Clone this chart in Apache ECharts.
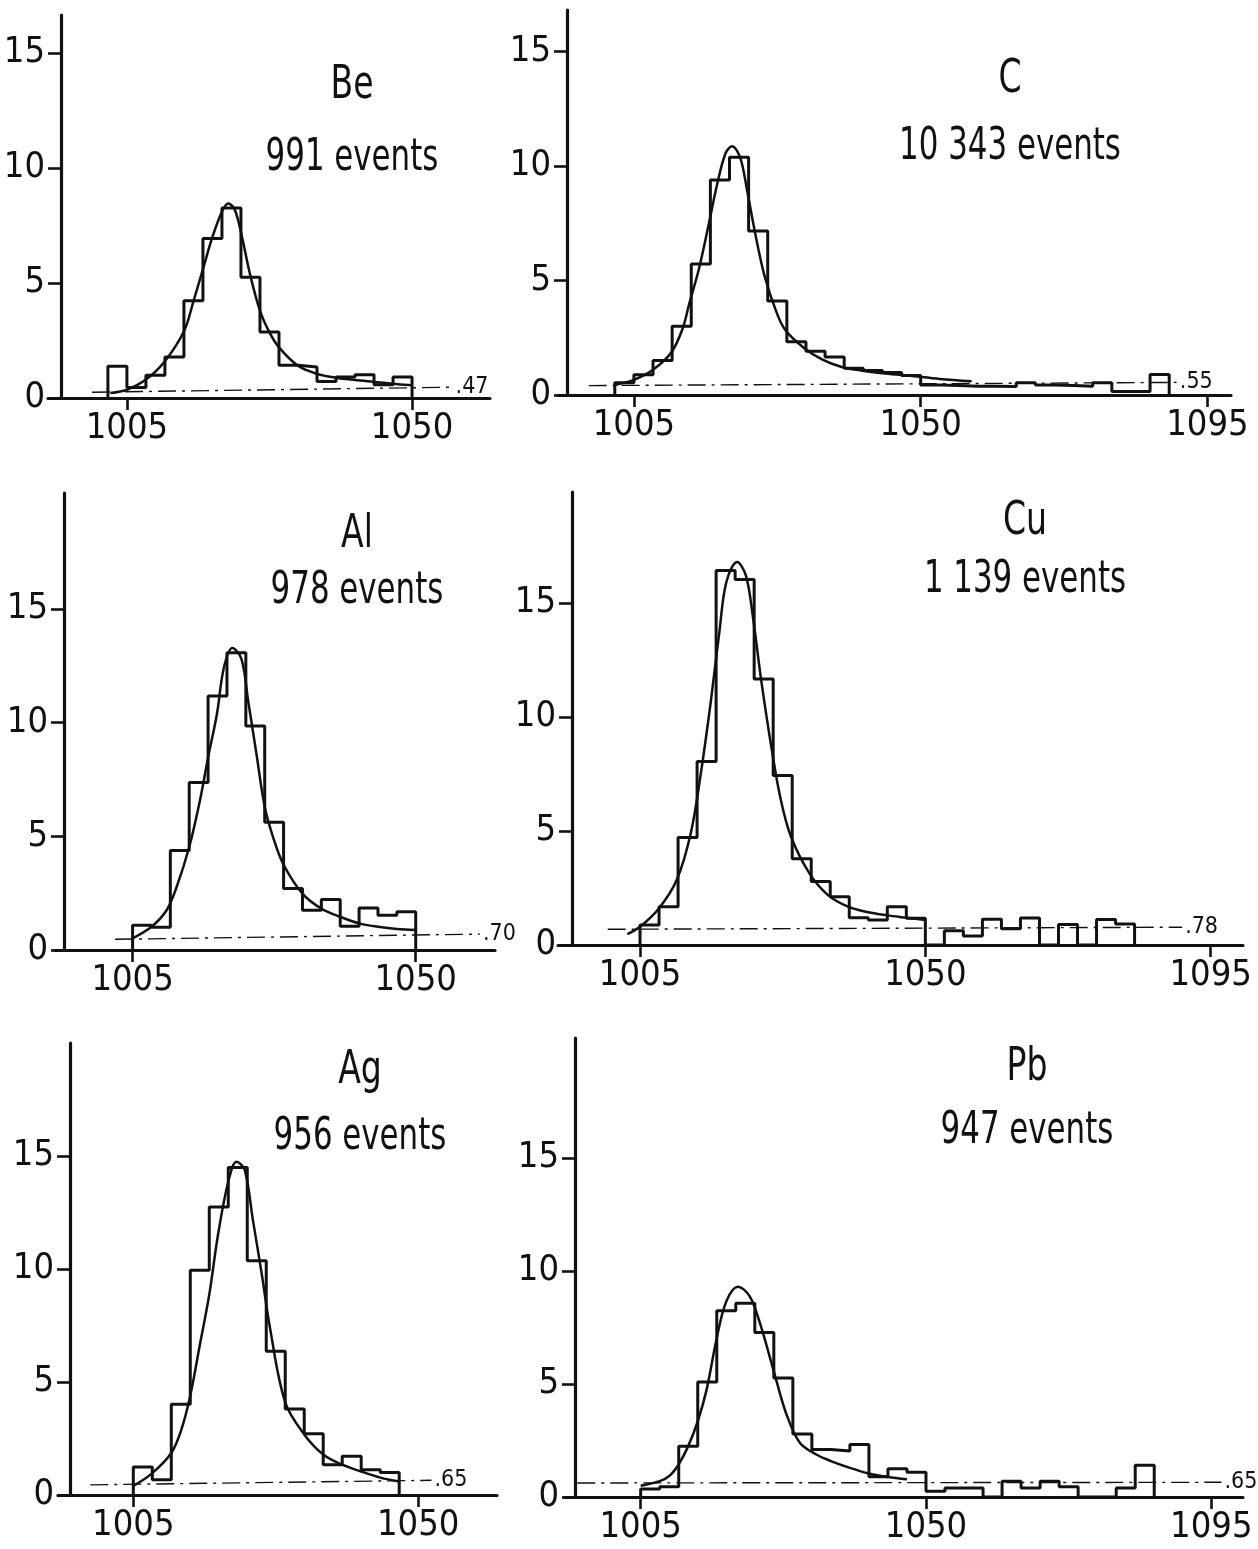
<!DOCTYPE html>
<html>
<head>
<meta charset="utf-8">
<script src="https://cdn.jsdelivr.net/npm/echarts@6/dist/echarts.min.js"></script>
<style>
  html, body { margin: 0; padding: 0; background: #fff; }
  #chart { width: 1258px; height: 1549px; }
</style>
</head>
<body>
<div id="chart"></div>
<script>
// Missing-mass spectra for six targets: 3 MeV histogram bins, fitted curve, background level.
const binWidth = 3;
const xTickValues = [1005, 1050, 1095];
const yTickValues = [0, 5, 10, 15];
const targets = ['Be', 'C', 'Al', 'Cu', 'Ag', 'Pb'];
const eventCounts = ['991', '10 343', '978', '1 139', '956', '947'];

// Be
const beFirstBin = 1002;
const beCounts = [1.38, 0.46, 0.99, 1.78, 4.23, 6.93, 8.26, 5.25, 2.87, 1.42, 1.35, 0.72, 0.91, 1.01, 0.58, 0.91];
const beFitX = [1002.4, 1005, 1008, 1011, 1014, 1015.5, 1017, 1018.5, 1020, 1021, 1022, 1023, 1024.5, 1026, 1027.5, 1029, 1032, 1035, 1038, 1041, 1044, 1047, 1050];
const beFitY = [0.22, 0.36, 0.8, 1.6, 2.9, 4.2, 5.6, 7.0, 8.1, 8.45, 8.2, 7.2, 5.3, 3.8, 2.85, 2.2, 1.4, 1.05, 0.88, 0.78, 0.7, 0.62, 0.55];
const beBaseX = [999.5, 1056.4];
const beBaseY = [0.25, 0.47];

// C
const cFirstBin = 1002;
const cCounts = [0.54, 0.88, 1.51, 3.0, 5.72, 9.38, 10.37, 7.16, 4.1, 2.32, 1.91, 1.66, 1.17, 1.07, 0.98, 0.85,
                 0.44, 0.41, 0.38, 0.38, 0.37, 0.53, 0.44, 0.41, 0.38, 0.53, 0.15, 0.15, 0.9];
const cFitX = [1002, 1005, 1008, 1010.8, 1012.6, 1013.7, 1015.2, 1016.7, 1018.1, 1019.4, 1020.4, 1021.7, 1022.8, 1024.1, 1025.5, 1027.3, 1028.7, 1031.7, 1034.6, 1037.6, 1040.6, 1044, 1048, 1053, 1058];
const cFitY = [0.44, 0.66, 1.1, 1.83, 2.86, 4.0, 5.5, 7.4, 9.24, 10.56, 10.85, 10.34, 8.87, 6.96, 5.2, 3.67, 2.86, 2.05, 1.54, 1.22, 1.07, 0.95, 0.85, 0.7, 0.6];
const cBaseX = [997.9, 1090.2];
const cBaseY = [0.41, 0.55];

// Al
const alFirstBin = 1005;
const alCounts = [1.09, 1.0, 4.38, 7.37, 11.17, 13.07, 9.85, 5.62, 2.7, 1.75, 2.22, 1.05, 1.85, 1.53, 1.68];
const alFitX = [1005, 1008, 1010.4, 1012, 1014, 1015.7, 1017, 1018.4, 1019.5, 1020.85, 1022.3, 1023.4, 1024.7, 1026, 1027.4, 1029, 1032, 1035, 1038, 1041, 1044, 1047, 1050];
const alFitY = [0.51, 1.02, 1.75, 2.77, 4.53, 6.57, 8.47, 10.37, 12.4, 13.28, 12.8, 10.9, 8.6, 6.3, 4.9, 3.75, 2.48, 1.82, 1.46, 1.17, 1.02, 0.92, 0.88];
const alBaseX = [1002.2, 1060.2];
const alBaseY = [0.47, 0.70];

// Cu
const cuFirstBin = 1005;
const cuCounts = [0.88, 1.68, 4.71, 8.05, 16.43, 16.03, 11.67, 7.44, 3.78, 2.78, 2.12, 1.2, 1.1, 1.68, 1.17,
                  0, 0.62, 0.4, 1.13, 0.71, 1.18, 0, 0.9, 0, 1.12, 0.92];
const cuFitX = [1003, 1005, 1008, 1010.8, 1013, 1014.6, 1016.2, 1017.5, 1018.6, 1020.3, 1021.7, 1022.8, 1024.1, 1025.7, 1027.2, 1028.8, 1031.7, 1034.6, 1037.8, 1040.6, 1044, 1047, 1050];
const cuFitY = [0.48, 0.8, 1.61, 2.86, 4.9, 7.54, 10.76, 13.7, 15.9, 16.8, 16.2, 14.4, 11.64, 8.7, 6.37, 4.76, 3.15, 2.2, 1.68, 1.46, 1.3, 1.2, 1.1];
const cuBaseX = [999.9, 1090.5];
const cuBaseY = [0.69, 0.78];

// Ag
const agFirstBin = 1005;
const agCounts = [1.24, 0.67, 4.02, 9.94, 12.74, 14.49, 10.36, 6.36, 3.8, 2.71, 1.34, 1.71, 1.12, 1.0];
const agFitX = [1005, 1008, 1011, 1012.6, 1014, 1015.5, 1017, 1018.4, 1020, 1021.3, 1022.6, 1023.9, 1025.3, 1026.6, 1029, 1032, 1035, 1038, 1041, 1044, 1047];
const agFitY = [0.4, 0.97, 1.86, 2.9, 4.4, 6.63, 8.87, 11.55, 13.86, 14.75, 14.38, 12.15, 9.76, 7.38, 4.1, 2.68, 1.79, 1.34, 1.04, 0.77, 0.6];
const agBaseX = [998.2, 1052.1];
const agBaseY = [0.45, 0.65];

// Pb
const pbFirstBin = 1005;
const pbCounts = [0.35, 0.45, 2.25, 5.09, 8.24, 8.57, 7.28, 5.26, 2.79, 2.1, 2.03, 2.32, 0.9, 1.25, 1.1,
                  0.25, 0.4, 0.4, 0, 0.7, 0.4, 0.7, 0.45, 0, 0, 0.4, 1.4];
const pbFitX = [1005, 1008, 1009.6, 1011, 1012.5, 1014, 1015.4, 1017, 1018.5, 1020.35, 1022.2, 1023.8, 1026, 1028, 1030.1, 1032.7, 1035, 1038, 1041, 1044, 1047];
const pbFitY = [0.5, 0.7, 0.95, 1.45, 2.25, 3.35, 4.75, 7.03, 8.65, 9.3, 8.87, 7.7, 5.56, 3.65, 2.4, 1.88, 1.59, 1.29, 1.04, 0.88, 0.78];
const pbBaseX = [995.0, 1096.6];
const pbBaseY = [0.62, 0.65];

const spectra = [
  { firstBin: beFirstBin, counts: beCounts, fitX: beFitX, fitY: beFitY, baseX: beBaseX, baseY: beBaseY },
  { firstBin: cFirstBin,  counts: cCounts,  fitX: cFitX,  fitY: cFitY,  baseX: cBaseX,  baseY: cBaseY },
  { firstBin: alFirstBin, counts: alCounts, fitX: alFitX, fitY: alFitY, baseX: alBaseX, baseY: alBaseY },
  { firstBin: cuFirstBin, counts: cuCounts, fitX: cuFitX, fitY: cuFitY, baseX: cuBaseX, baseY: cuBaseY },
  { firstBin: agFirstBin, counts: agCounts, fitX: agFitX, fitY: agFitY, baseX: agBaseX, baseY: agBaseY },
  { firstBin: pbFirstBin, counts: pbCounts, fitX: pbFitX, fitY: pbFitY, baseX: pbBaseX, baseY: pbBaseY }
];

// Panel frames in page pixels: y-axis x, plot top, x-axis y, x-axis right end, and axis ranges.
const frames = [
  { axisX: 61,  top: 15,   bottom: 398,  right: 490,  xMin: 994.6,  xMax: 1062.3, yMax: 16.65, ext: 13, tx: 352,  ty: 86,   cy: 159 },
  { axisX: 567, top: 10,   bottom: 395,  right: 1231, xMin: 994.5,  xMax: 1098.7, yMax: 16.8,  ext: 9,  tx: 1010, ty: 80,   cy: 148 },
  { axisX: 64,  top: 493,  bottom: 950,  right: 495,  xMin: 994.1,  xMax: 1062.6, yMax: 20.1,  ext: 9,  tx: 357,  ty: 535,  cy: 592 },
  { axisX: 572, top: 492,  bottom: 945,  right: 1243, xMin: 994.27, xMax: 1100.1, yMax: 19.87, ext: 14, tx: 1025, ty: 522,  cy: 581 },
  { axisX: 70,  top: 1043, bottom: 1495, right: 497,  xMin: 995.0,  xMax: 1062.45, yMax: 20.0, ext: 12, tx: 360,  ty: 1071, cy: 1138 },
  { axisX: 575, top: 1038, bottom: 1497, right: 1243, xMin: 994.64, xMax: 1100.0, yMax: 20.3,  ext: 10, tx: 1027, ty: 1068, cy: 1132 }
];

const INK = '#111';
const FONT = "'DejaVu Sans Condensed', 'Liberation Sans Narrow', 'Liberation Sans', sans-serif";

function histogramOutline(firstBin, counts) {
  const pts = [[firstBin, 0]];
  counts.forEach((c, i) => pts.push([firstBin + i * binWidth, c]));
  pts.push([firstBin + counts.length * binWidth, 0]);
  return pts;
}

const grids = [], xAxes = [], yAxes = [], series = [], graphics = [];

frames.forEach((f, i) => {
  const s = spectra[i];
  const pxPerUnit = (f.right - f.axisX) / (f.xMax - f.xMin);
  grids.push({
    left: f.axisX - f.ext, top: f.top,
    width: f.right - f.axisX + f.ext, height: f.bottom - f.top,
    containLabel: false
  });
  const xTicks = xTickValues.filter(v => v <= f.xMax);
  xAxes.push({
    gridIndex: i, type: 'value',
    min: f.xMin - f.ext / pxPerUnit, max: f.xMax,
    axisLine: { show: true, lineStyle: { color: INK, width: 3.2 } },
    axisTick: { show: true, length: 12, customValues: xTicks, lineStyle: { color: INK, width: 2.6 } },
    axisLabel: { show: true, customValues: xTicks, formatter: v => String(v), margin: 13,
                 color: INK, fontFamily: FONT, fontSize: 36, lineHeight: 36 },
    splitLine: { show: false }
  });
  yAxes.push({
    gridIndex: i, type: 'value', min: 0, max: f.yMax, offset: -f.ext,
    axisLine: { show: true, lineStyle: { color: INK, width: 3.2 } },
    axisTick: { show: true, length: 13, customValues: yTickValues, lineStyle: { color: INK, width: 2.6 } },
    axisLabel: { show: true, customValues: yTickValues, formatter: v => String(v), margin: 16,
                 color: INK, fontFamily: FONT, fontSize: 36, lineHeight: 36 },
    splitLine: { show: false }
  });

  series.push({
    type: 'line', xAxisIndex: i, yAxisIndex: i, step: 'end',
    data: histogramOutline(s.firstBin, s.counts),
    showSymbol: false, symbol: 'none',
    lineStyle: { color: INK, width: 3 }, z: 3
  });
  series.push({
    type: 'line', xAxisIndex: i, yAxisIndex: i, smooth: 0.35,
    data: s.fitX.map((x, k) => [x, s.fitY[k]]),
    showSymbol: false, symbol: 'none',
    lineStyle: { color: INK, width: 2.5 }, z: 4
  });
  series.push({
    type: 'line', xAxisIndex: i, yAxisIndex: i,
    data: s.baseX.map((x, k) => [x, s.baseY[k]]),
    showSymbol: false, symbol: 'none',
    lineStyle: { color: INK, width: 1.4, type: [18, 6, 3, 6] }, z: 2,
    endLabel: {
      show: true, distance: 3,
      formatter: p => '.' + String(Math.round(p.value[1] * 100)).padStart(2, '0'),
      color: INK, fontFamily: FONT, fontSize: 23
    }
  });

  graphics.push({
    type: 'text', x: f.tx, y: f.ty, scaleX: 0.8,
    style: { text: targets[i], fill: INK, font: `46px ${FONT}`, textAlign: 'center', textVerticalAlign: 'middle', verticalAlign: 'middle' }
  });
  graphics.push({
    type: 'text', x: f.tx, y: f.cy, scaleX: 0.78,
    style: { text: eventCounts[i] + ' events', fill: INK, font: `44px ${FONT}`, textAlign: 'center', textVerticalAlign: 'middle', verticalAlign: 'middle' }
  });
});

const chart = echarts.init(document.getElementById('chart'), null, { renderer: 'canvas' });
chart.setOption({
  backgroundColor: '#fff',
  animation: false,
  grid: grids,
  xAxis: xAxes,
  yAxis: yAxes,
  series: series,
  graphic: graphics
});
</script>
</body>
</html>
